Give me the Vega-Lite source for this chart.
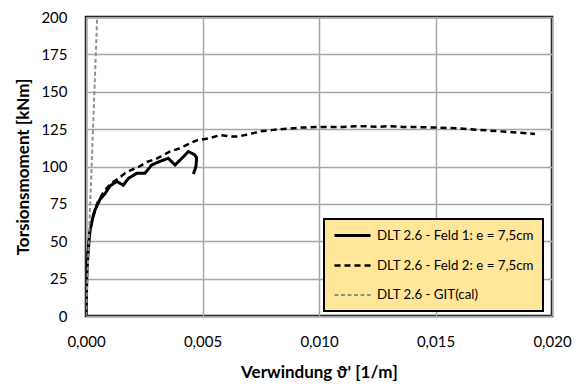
{
  "$schema": "https://vega.github.io/schema/vega-lite/v6.json",
  "width": 466,
  "height": 299,
  "autosize": {"type": "none"},
  "padding": {"left": 86, "top": 17, "right": 31, "bottom": 71},
  "background": "white",
  "config": {
    "font": "Lato",
    "view": {"stroke": "black", "strokeWidth": 2.5},
    "axis": {
      "grid": true,
      "gridColor": "#a6a6a6",
      "gridWidth": 1.5,
      "ticks": false,
      "domain": false,
      "labelFont": "Lato",
      "labelFontSize": 15,
      "labelColor": "black",
      "titleFont": "Lato",
      "titleFontSize": 17,
      "titleFontWeight": "bold",
      "titleColor": "black"
    }
  },
  "datasets": {
    "kurven": [
      {"serie": "DLT 2.6 - Feld 1: e = 7,5cm", "ord": 1, "theta": 0, "mt": 0},
      {"serie": "DLT 2.6 - Feld 1: e = 7,5cm", "ord": 2, "theta": 0.00002, "mt": 15},
      {"serie": "DLT 2.6 - Feld 1: e = 7,5cm", "ord": 3, "theta": 0.00004, "mt": 30},
      {"serie": "DLT 2.6 - Feld 1: e = 7,5cm", "ord": 4, "theta": 0.0001, "mt": 45},
      {"serie": "DLT 2.6 - Feld 1: e = 7,5cm", "ord": 5, "theta": 0.00017, "mt": 57},
      {"serie": "DLT 2.6 - Feld 1: e = 7,5cm", "ord": 6, "theta": 0.00028, "mt": 65},
      {"serie": "DLT 2.6 - Feld 1: e = 7,5cm", "ord": 7, "theta": 0.00039, "mt": 71},
      {"serie": "DLT 2.6 - Feld 1: e = 7,5cm", "ord": 8, "theta": 0.0006, "mt": 78},
      {"serie": "DLT 2.6 - Feld 1: e = 7,5cm", "ord": 9, "theta": 0.00082, "mt": 82},
      {"serie": "DLT 2.6 - Feld 1: e = 7,5cm", "ord": 10, "theta": 0.00103, "mt": 87},
      {"serie": "DLT 2.6 - Feld 1: e = 7,5cm", "ord": 11, "theta": 0.00132, "mt": 90},
      {"serie": "DLT 2.6 - Feld 1: e = 7,5cm", "ord": 12, "theta": 0.0016, "mt": 87.5},
      {"serie": "DLT 2.6 - Feld 1: e = 7,5cm", "ord": 13, "theta": 0.00182, "mt": 92},
      {"serie": "DLT 2.6 - Feld 1: e = 7,5cm", "ord": 14, "theta": 0.00218, "mt": 95.5},
      {"serie": "DLT 2.6 - Feld 1: e = 7,5cm", "ord": 15, "theta": 0.00253, "mt": 95.5},
      {"serie": "DLT 2.6 - Feld 1: e = 7,5cm", "ord": 16, "theta": 0.00282, "mt": 101},
      {"serie": "DLT 2.6 - Feld 1: e = 7,5cm", "ord": 17, "theta": 0.0031, "mt": 103},
      {"serie": "DLT 2.6 - Feld 1: e = 7,5cm", "ord": 18, "theta": 0.00353, "mt": 105.5},
      {"serie": "DLT 2.6 - Feld 1: e = 7,5cm", "ord": 19, "theta": 0.00382, "mt": 101},
      {"serie": "DLT 2.6 - Feld 1: e = 7,5cm", "ord": 20, "theta": 0.00418, "mt": 106.5},
      {"serie": "DLT 2.6 - Feld 1: e = 7,5cm", "ord": 21, "theta": 0.00439, "mt": 110},
      {"serie": "DLT 2.6 - Feld 1: e = 7,5cm", "ord": 22, "theta": 0.00465, "mt": 108},
      {"serie": "DLT 2.6 - Feld 1: e = 7,5cm", "ord": 23, "theta": 0.00475, "mt": 106},
      {"serie": "DLT 2.6 - Feld 1: e = 7,5cm", "ord": 24, "theta": 0.00472, "mt": 100},
      {"serie": "DLT 2.6 - Feld 1: e = 7,5cm", "ord": 25, "theta": 0.00461, "mt": 95},
      {"serie": "DLT 2.6 - Feld 2: e = 7,5cm", "ord": 1, "theta": 0, "mt": 0},
      {"serie": "DLT 2.6 - Feld 2: e = 7,5cm", "ord": 2, "theta": 0.00003, "mt": 25},
      {"serie": "DLT 2.6 - Feld 2: e = 7,5cm", "ord": 3, "theta": 0.00008, "mt": 42},
      {"serie": "DLT 2.6 - Feld 2: e = 7,5cm", "ord": 4, "theta": 0.00015, "mt": 55},
      {"serie": "DLT 2.6 - Feld 2: e = 7,5cm", "ord": 5, "theta": 0.0003, "mt": 67},
      {"serie": "DLT 2.6 - Feld 2: e = 7,5cm", "ord": 6, "theta": 0.0005, "mt": 76},
      {"serie": "DLT 2.6 - Feld 2: e = 7,5cm", "ord": 7, "theta": 0.0008, "mt": 84},
      {"serie": "DLT 2.6 - Feld 2: e = 7,5cm", "ord": 8, "theta": 0.0011, "mt": 89},
      {"serie": "DLT 2.6 - Feld 2: e = 7,5cm", "ord": 9, "theta": 0.0014, "mt": 92},
      {"serie": "DLT 2.6 - Feld 2: e = 7,5cm", "ord": 10, "theta": 0.00167, "mt": 95.5},
      {"serie": "DLT 2.6 - Feld 2: e = 7,5cm", "ord": 11, "theta": 0.002, "mt": 98},
      {"serie": "DLT 2.6 - Feld 2: e = 7,5cm", "ord": 12, "theta": 0.0023, "mt": 100},
      {"serie": "DLT 2.6 - Feld 2: e = 7,5cm", "ord": 13, "theta": 0.0026, "mt": 103},
      {"serie": "DLT 2.6 - Feld 2: e = 7,5cm", "ord": 14, "theta": 0.003, "mt": 105},
      {"serie": "DLT 2.6 - Feld 2: e = 7,5cm", "ord": 15, "theta": 0.0033, "mt": 107.5},
      {"serie": "DLT 2.6 - Feld 2: e = 7,5cm", "ord": 16, "theta": 0.0036, "mt": 110},
      {"serie": "DLT 2.6 - Feld 2: e = 7,5cm", "ord": 17, "theta": 0.004, "mt": 112},
      {"serie": "DLT 2.6 - Feld 2: e = 7,5cm", "ord": 18, "theta": 0.00446, "mt": 115.5},
      {"serie": "DLT 2.6 - Feld 2: e = 7,5cm", "ord": 19, "theta": 0.00475, "mt": 117.5},
      {"serie": "DLT 2.6 - Feld 2: e = 7,5cm", "ord": 20, "theta": 0.00532, "mt": 119},
      {"serie": "DLT 2.6 - Feld 2: e = 7,5cm", "ord": 21, "theta": 0.00575, "mt": 121},
      {"serie": "DLT 2.6 - Feld 2: e = 7,5cm", "ord": 22, "theta": 0.00632, "mt": 120},
      {"serie": "DLT 2.6 - Feld 2: e = 7,5cm", "ord": 23, "theta": 0.00647, "mt": 120},
      {"serie": "DLT 2.6 - Feld 2: e = 7,5cm", "ord": 24, "theta": 0.00682, "mt": 121},
      {"serie": "DLT 2.6 - Feld 2: e = 7,5cm", "ord": 25, "theta": 0.0075, "mt": 123.5},
      {"serie": "DLT 2.6 - Feld 2: e = 7,5cm", "ord": 26, "theta": 0.00804, "mt": 124.5},
      {"serie": "DLT 2.6 - Feld 2: e = 7,5cm", "ord": 27, "theta": 0.00918, "mt": 126},
      {"serie": "DLT 2.6 - Feld 2: e = 7,5cm", "ord": 28, "theta": 0.01019, "mt": 126.5},
      {"serie": "DLT 2.6 - Feld 2: e = 7,5cm", "ord": 29, "theta": 0.011, "mt": 126.5},
      {"serie": "DLT 2.6 - Feld 2: e = 7,5cm", "ord": 30, "theta": 0.0119, "mt": 127},
      {"serie": "DLT 2.6 - Feld 2: e = 7,5cm", "ord": 31, "theta": 0.0125, "mt": 126.5},
      {"serie": "DLT 2.6 - Feld 2: e = 7,5cm", "ord": 32, "theta": 0.01305, "mt": 127},
      {"serie": "DLT 2.6 - Feld 2: e = 7,5cm", "ord": 33, "theta": 0.0136, "mt": 126.5},
      {"serie": "DLT 2.6 - Feld 2: e = 7,5cm", "ord": 34, "theta": 0.01448, "mt": 126.3},
      {"serie": "DLT 2.6 - Feld 2: e = 7,5cm", "ord": 35, "theta": 0.01591, "mt": 125.6},
      {"serie": "DLT 2.6 - Feld 2: e = 7,5cm", "ord": 36, "theta": 0.01734, "mt": 124},
      {"serie": "DLT 2.6 - Feld 2: e = 7,5cm", "ord": 37, "theta": 0.01927, "mt": 121.8},
      {"serie": "DLT 2.6 - GIT(cal)", "ord": 1, "theta": 0, "mt": 0},
      {"serie": "DLT 2.6 - GIT(cal)", "ord": 2, "theta": 0.00048, "mt": 200}
    ]
  },
  "data": {"name": "kurven"},
  "mark": {"type": "line", "clip": true},
  "encoding": {
    "x": {
      "field": "theta",
      "type": "quantitative",
      "scale": {"domain": [0, 0.02], "nice": false},
      "axis": {
        "values": [0, 0.005, 0.01, 0.015, 0.02],
        "labelExpr": "replace(format(datum.value, '.3f'), '.', ',')",
        "labelFlush": false,
        "labelAlign": "center",
        "labelPadding": 18,
        "title": "Verwindung ϑ' [1/m]",
        "titleY": 48,
        "titleBaseline": "top"
      }
    },
    "y": {
      "field": "mt",
      "type": "quantitative",
      "scale": {"domain": [0, 200], "nice": false},
      "axis": {
        "values": [0, 25, 50, 75, 100, 125, 150, 175, 200],
        "labelPadding": 19,
        "title": "Torsionsmoment [kNm]",
        "titleX": -63,
        "titleY": 149.5,
        "titleAngle": -90,
        "titleAlign": "center",
        "titleBaseline": "middle"
      }
    },
    "order": {"field": "ord", "type": "quantitative"},
    "color": {
      "field": "serie",
      "type": "nominal",
      "scale": {"range": ["black", "black", "#8f8f8f"]},
      "legend": {
        "title": null,
        "orient": "none",
        "legendX": 238,
        "legendY": 202,
        "fillColor": "#FFE699",
        "strokeColor": "black",
        "padding": 9,
        "symbolType": "M-1,0H5",
        "symbolSize": 144,
        "labelFont": "Lato",
        "labelFontSize": 13.3,
        "labelColor": "black",
        "labelOffset": 29,
        "rowPadding": 16,
        "encode": {"legend": {"update": {"strokeWidth": {"value": 2}}}}
      }
    },
    "strokeDash": {
      "field": "serie",
      "type": "nominal",
      "scale": {"range": [[1, 0], [6, 4], [4, 2.5]]}
    },
    "strokeWidth": {
      "field": "serie",
      "type": "nominal",
      "scale": {"range": [3, 2, 1.5]}
    }
  }
}
